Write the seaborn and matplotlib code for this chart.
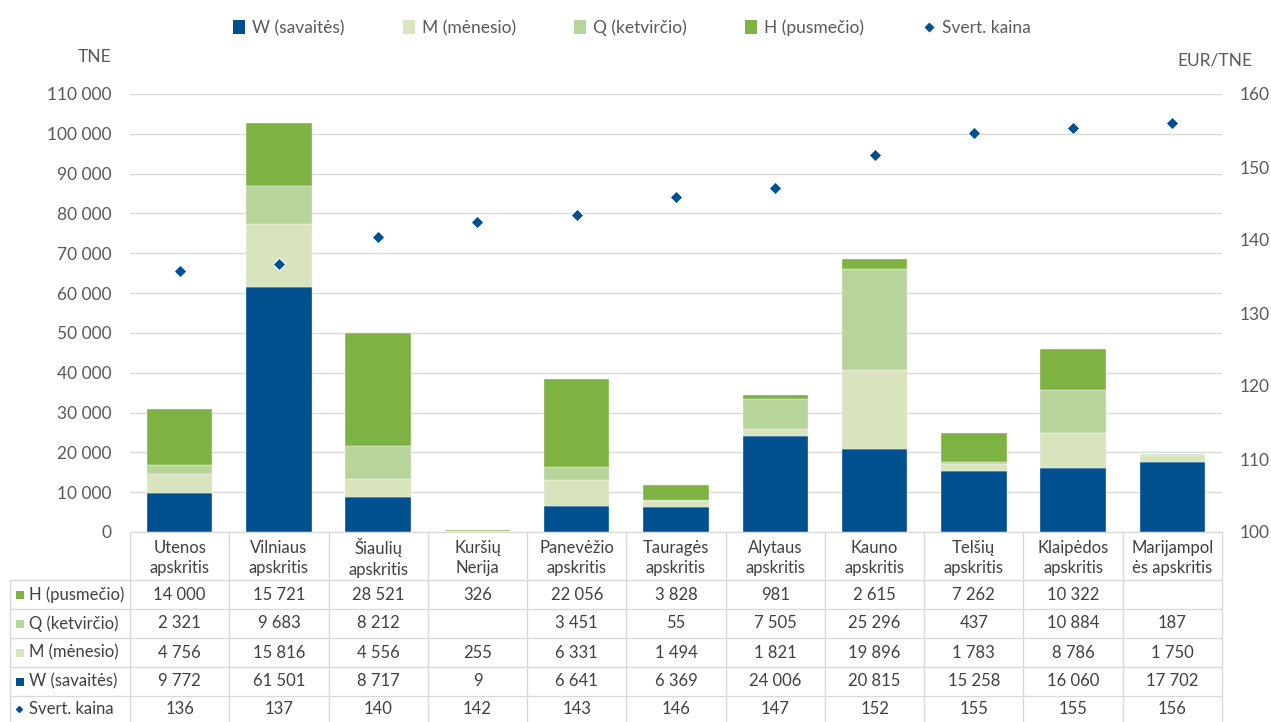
import numpy as np
import matplotlib.pyplot as plt
import seaborn as sns
from matplotlib.patches import Patch, Rectangle
from matplotlib.lines import Line2D
from matplotlib.ticker import FuncFormatter, MultipleLocator

# =========================
# DATA
# =========================

regions = ["Utenos\napskritis", "Vilniaus\napskritis", "Šiaulių\napskritis",
           "Kuršių\nNerija", "Panevėžio\napskritis", "Tauragės\napskritis",
           "Alytaus\napskritis", "Kauno\napskritis", "Telšių\napskritis",
           "Klaipėdos\napskritis", "Marijampol\nės apskritis"]

w_vals = [9772, 61501, 8717, 9, 6641, 6369, 24006, 20815, 15258, 16060, 17702]
m_vals = [4756, 15816, 4556, 255, 6331, 1494, 1821, 19896, 1783, 8786, 1750]
q_vals = [2321, 9683, 8212, 0, 3451, 55, 7505, 25296, 437, 10884, 187]
h_vals = [14000, 15721, 28521, 326, 22056, 3828, 981, 2615, 7262, 10322, 0]

price = [135.8, 136.7, 140.4, 142.4, 143.4, 145.9, 147.1, 151.6, 154.7, 155.3, 156.0]

series_names = ["W (savaitės)", "M (mėnesio)", "Q (ketvirčio)", "H (pusmečio)"]
price_name = "Svert. kaina"

colors = ["#00508F", "#D7E4BD", "#B7D49B", "#7EB343"]
price_color = "#00508F"

# =========================
# STYLE
# =========================

sns.set_style("white")
plt.rcParams['font.family'] = ['Lato', 'DejaVu Sans']

W, H = 1271, 722
text_col = "#595959"
grid_col = "#D9D9D9"
fs = 12.5

fig = plt.figure(figsize=(W / 100, H / 100), dpi=100)

x0, x1 = 130, 1222
y_top, y_zero = 94, 532
ax = fig.add_axes([x0 / W, 1 - y_zero / H, (x1 - x0) / W, (y_zero - y_top) / H])

# =========================
# STACKED BARS
# =========================

bottom = np.zeros(len(regions))
for name, vals, col in zip(series_names, [w_vals, m_vals, q_vals, h_vals], colors):
    sns.barplot(x=regions, y=vals, order=regions, bottom=bottom, color=col,
                saturation=1, width=0.66, edgecolor="white", linewidth=0.25,
                ax=ax, zorder=2)
    bottom = bottom + np.array(vals)

ax.set_xlim(-0.5, len(regions) - 0.5)
ax.set_ylim(0, 110000)
ax.yaxis.set_major_locator(MultipleLocator(10000))
ax.yaxis.set_major_formatter(FuncFormatter(lambda v, p: f"{v:,.0f}".replace(",", " ")))
ax.grid(axis="y", color=grid_col, linewidth=1, zorder=0)
ax.set_axisbelow(True)
ax.set_xticks([])
ax.set_xlabel("")
ax.set_ylabel("")
ax.tick_params(axis="y", length=0, pad=13.5, labelsize=fs, labelcolor=text_col)
for s in ["top", "left", "right"]:
    ax.spines[s].set_visible(False)
ax.spines["bottom"].set_color(grid_col)

# =========================
# PRICE MARKERS
# =========================

ax2 = ax.twinx()
sns.scatterplot(x=np.arange(len(regions)), y=price, marker="D", s=42,
                color=price_color, edgecolor="white", linewidth=0.8,
                ax=ax2, zorder=5)
ax2.set_ylim(100, 160)
ax2.yaxis.set_major_locator(MultipleLocator(10))
ax2.tick_params(axis="y", length=0, pad=12.5, labelsize=fs, labelcolor=text_col)
ax2.set_xlim(-0.5, len(regions) - 0.5)
for s in ax2.spines.values():
    s.set_visible(False)

fig.text(95 / W, 1 - 57 / H, "TNE", ha="center", va="center", fontsize=fs, color=text_col)
fig.text(1215 / W, 1 - 60 / H, "EUR/TNE", ha="center", va="center", fontsize=fs, color=text_col)

# =========================
# LEGEND
# =========================

handles = [Patch(facecolor=c, edgecolor="none") for c in colors]
handles.append(Line2D([], [], marker="D", linestyle="none", color=price_color,
                      markersize=6, markeredgecolor="white"))
fig.legend(handles, series_names + [price_name], loc="center", ncol=5,
           bbox_to_anchor=(0.497, 1 - 28 / H), frameon=False, fontsize=fs,
           labelcolor=text_col, handlelength=0.7, handleheight=0.9,
           handletextpad=0.4, columnspacing=3.35)

# =========================
# DATA TABLE
# =========================

tab = fig.add_axes([0, 0, 1, 1], zorder=-1)
tab.set_xlim(0, W)
tab.set_ylim(H, 0)
tab.axis("off")

line_col = "#D9D9D9"
colw = (x1 - x0) / len(regions)
row_edges = [580, 609, 638, 667, 696, 725]

for i in range(len(regions) + 1):
    xe = x0 + i * colw
    tab.plot([xe, xe], [y_zero, H], color=line_col, lw=1)
tab.plot([10, 10], [row_edges[0], H], color=line_col, lw=1)
for ye in row_edges[:-1]:
    tab.plot([10, x1], [ye, ye], color=line_col, lw=1)

table_col = "#404040"
tfs = 12
for i, name in enumerate(regions):
    tab.text(x0 + (i + 0.5) * colw, (y_zero + row_edges[0]) / 2 + 2, name,
             ha="center", va="center", fontsize=tfs, color=table_col,
             linespacing=1.35)

fmt = lambda v: f"{v:,.0f}".replace(",", " ") if v else ""
rows = [("H (pusmečio)", h_vals, colors[3]),
        ("Q (ketvirčio)", q_vals, colors[2]),
        ("M (mėnesio)", m_vals, colors[1]),
        ("W (savaitės)", w_vals, colors[0])]

for r, (label, vals, col) in enumerate(rows):
    yc = (row_edges[r] + row_edges[r + 1]) / 2
    tab.add_patch(Rectangle((16, yc - 4), 8, 8, facecolor=col, edgecolor="none"))
    tab.text(29, yc, label, ha="left", va="center", fontsize=tfs, color=table_col)
    for i, v in enumerate(vals):
        tab.text(x0 + (i + 0.5) * colw, yc, fmt(v), ha="center", va="center",
                 fontsize=tfs, color=table_col)

yc = (row_edges[4] + row_edges[5]) / 2 - 2
tab.plot([19], [yc], marker="D", markersize=3, color=price_color, linestyle="none")
tab.text(29, yc, price_name, ha="left", va="center", fontsize=tfs, color=table_col)
for i, p in enumerate(price):
    tab.text(x0 + (i + 0.5) * colw, yc, f"{p:.0f}", ha="center", va="center",
             fontsize=tfs, color=table_col)

fig.savefig("out.png", dpi=100)
